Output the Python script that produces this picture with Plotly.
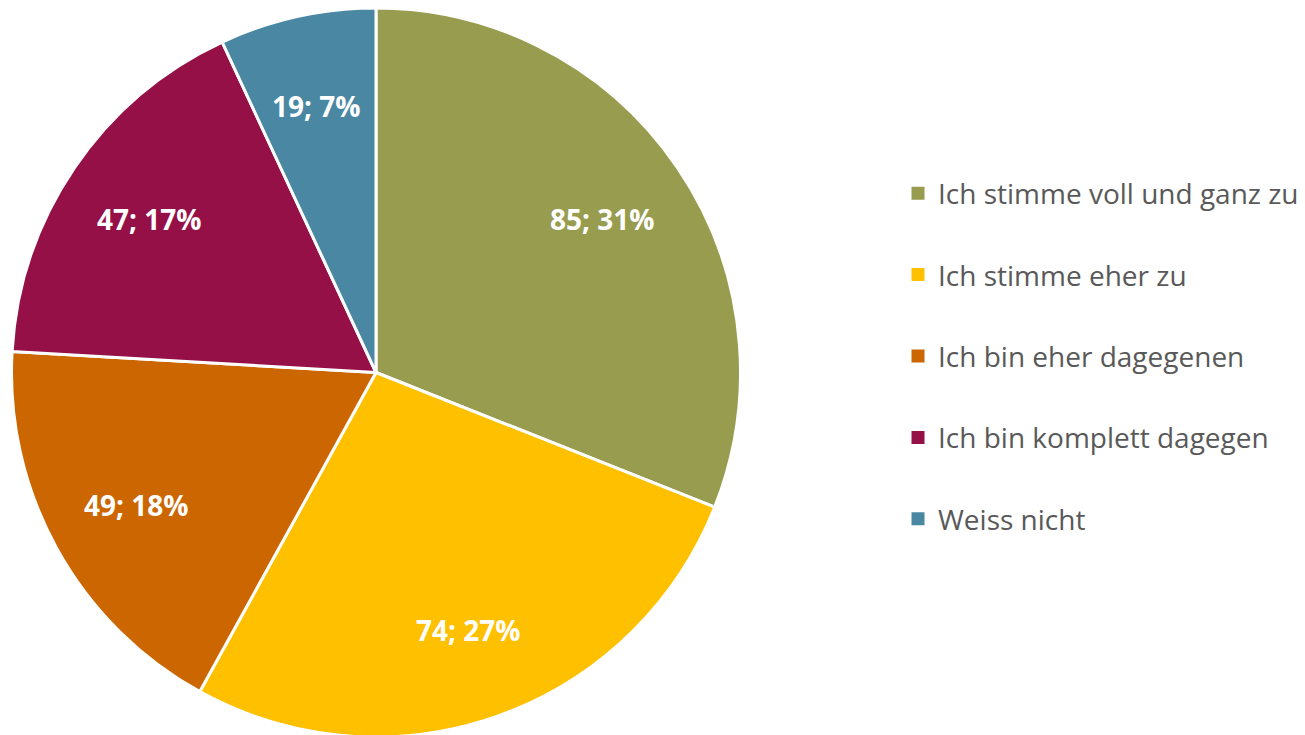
import math
import plotly.graph_objects as go

categories = ["Ich stimme voll und ganz zu", "Ich stimme eher zu", "Ich bin eher dagegenen",
              "Ich bin komplett dagegen", "Weiss nicht"]
values = [85, 74, 49, 47, 19]
colors = ["#989C4F", "#FFC000", "#CC6600", "#961048", "#4A87A3"]

W, H = 1305, 735
mt, mb = 0, 6
ph = H - mt - mb
r = ph / 2
cx = 368
label_frac = 0.75

fig = go.Figure()
fig.add_trace(go.Pie(
    labels=categories, values=values, sort=False, direction="clockwise", rotation=0,
    marker=dict(colors=colors, line=dict(color="white", width=3)),
    textinfo="none",
    showlegend=False, hoverinfo="label+value+percent",
    domain=dict(x=[(cx - r) / W, (cx + r) / W], y=[0, 1]),
))

# data labels placed on each slice's bisector
total = sum(values)
cum = 0
for v in values:
    mid = (cum + v / 2) / total * 2 * math.pi
    cum += v
    dx = math.sin(mid) * r * label_frac
    dy = math.cos(mid) * r * label_frac
    fig.add_annotation(
        x=(cx + dx) / W, y=0.5 + dy / ph, xref="paper", yref="paper",
        xanchor="center", yanchor="middle",
        text=f"{v}; {round(100 * v / total)}%", showarrow=False,
        font=dict(family="Open Sans", size=28, color="white", weight="bold"),
    )

for c, col in zip(categories, colors):
    fig.add_trace(go.Scatter(
        x=[None], y=[None], mode="markers", name=c, legendgroup=c,
        marker=dict(symbol="square", size=13, color=col),
    ))

fig.update_layout(
    width=W, height=H, margin=dict(l=0, r=0, t=mt, b=mb),
    paper_bgcolor="white", plot_bgcolor="white",
    xaxis=dict(visible=False, domain=[0.9, 1]), yaxis=dict(visible=False),
    legend=dict(x=0.682, xanchor="left", y=1 - (356 - 8) / ph, yanchor="middle",
                font=dict(family="Open Sans", size=28, color="#595959"),
                tracegroupgap=42, itemwidth=30),
    font=dict(family="Open Sans"),
)
fig.write_html("out.html")
